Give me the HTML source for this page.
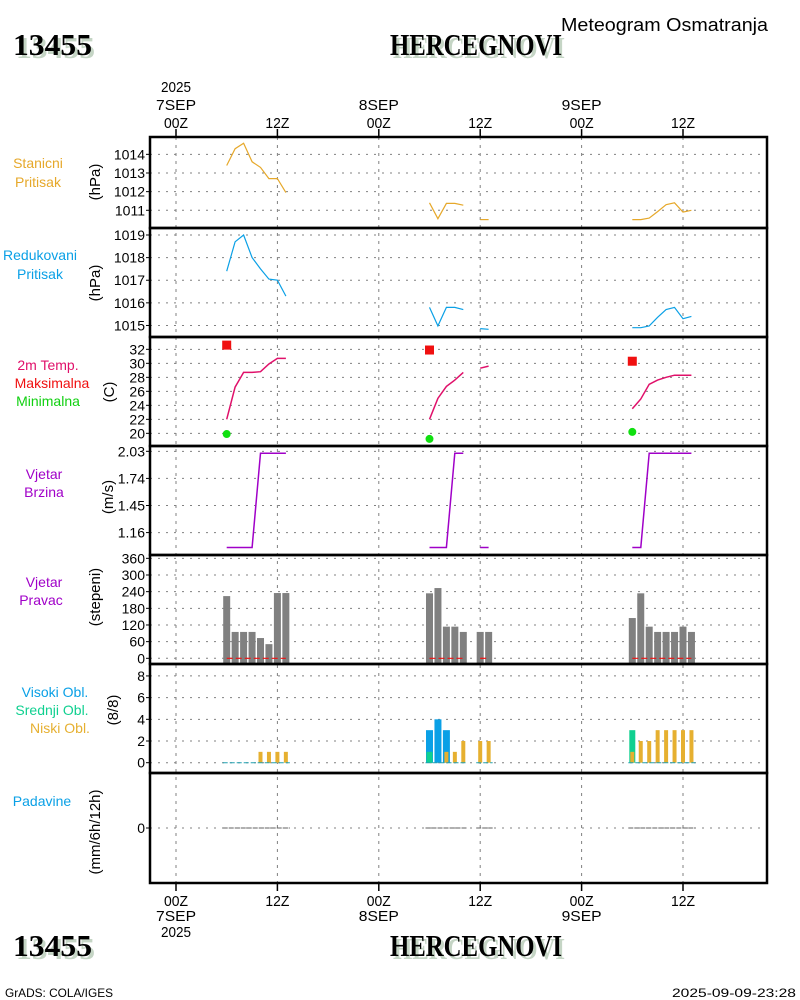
<!DOCTYPE html>
<html><head><meta charset="utf-8"><style>
html,body{margin:0;padding:0;background:#fff}
svg{display:block}
text{font-family:"Liberation Sans",sans-serif}
text.serif{font-family:"Liberation Serif",serif}
</style></head><body>
<svg id="c" xmlns="http://www.w3.org/2000/svg" width="800" height="1000" viewBox="0 0 800 1000">
<g id="g"></g>
</svg>
<script>
// ---- data ----
const stnHours=[6,7,8,9,10,11,12,13,30,31,32,33,34,36,37,54,55,56,57,58,59,60,61];
const stnPres=[1013.4,1014.3,1014.6,1013.6,1013.3,1012.7,1012.7,1011.95,1011.4,1010.55,1011.37,1011.37,1011.27,1010.5,1010.5,1010.5,1010.5,1010.58,1010.93,1011.3,1011.4,1010.9,1011.0];
const redPres=[1017.4,1018.7,1019.0,1018.0,1017.5,1017.05,1017.0,1016.3,1015.8,1014.98,1015.8,1015.8,1015.7,1014.86,1014.83,1014.9,1014.9,1014.98,1015.36,1015.7,1015.8,1015.3,1015.4];
const temp2m=[22.0,26.6,28.7,28.7,28.8,29.9,30.7,30.7,22.0,25.0,26.7,27.6,28.7,29.3,29.6,23.5,24.9,27.0,27.6,28.0,28.3,28.3,28.3];
const windSpd=[1.0,1.0,1.0,1.0,2.01,2.01,2.01,2.01,1.0,1.0,1.0,2.01,2.01,1.0,1.0,1.0,1.0,2.01,2.01,2.01,2.01,2.01,2.01];
const windDir=[224,95,95,95,73,51,235,235,234,253,114,114,95,95,95,145,234,114,95,95,95,114,95];
const cloudHigh=[0,0,0,0,0,0,0,0,3,4,3,0,0,0,0,0,0,0,0,0,0,0,0];
const cloudMid=[0,0,0,0,0,0,0,0,1,0,0,0,0,0,0,3,0,0,0,0,0,0,0];
const cloudLow=[0,0,0,0,1,1,1,1,0,0,1,1,2,2,2,1,2,2,3,3,3,3,3];
const maxHours=[6,30,54]; const tMax=[32.6,31.9,30.3];
const tMin=[19.9,19.2,20.2];
const presTicks1=[1011,1012,1013,1014];
const presTicks2=[1015,1016,1017,1018,1019];
const tempTicks=[20,22,24,26,28,30,32];
const spdTicks=[1.16,1.45,1.74,2.03];
const dirTicks=[0,60,120,180,240,300,360];
const cldTicks=[0,2,4,6,8];
const timeHours=[0,12,24,36,48,60];
const timeLabels=["00Z","12Z","00Z","12Z","00Z","12Z"];
const dayLabels=["7SEP","","8SEP","","9SEP",""];

const NS="http://www.w3.org/2000/svg";
const G=document.getElementById('g');
function el(tag,attrs,parent){const e=document.createElementNS(NS,tag);for(const k in attrs)e.setAttribute(k,attrs[k]);(parent||G).appendChild(e);return e;}
function txt(s,x,y,o){const e=el('text',{x:x,y:y,'font-size':o.fs||13,fill:o.fill||'#000','text-anchor':o.anchor||'start'});if(o.tl){e.setAttribute('textLength',o.tl);e.setAttribute('lengthAdjust','spacingAndGlyphs');}if(o.fw)e.setAttribute('font-weight',o.fw);if(o.serif)e.setAttribute('class','serif');if(o.rot)e.setAttribute('transform','rotate(-90 '+x+' '+y+')');e.textContent=s;return e;}
const X0=150,X1=767;
function xs(h){return 176+h*(507/60);}
const panels=[
 {top:137,bot:228,vmax:1014.93,vmin:1010.05},
 {top:228,bot:337,vmax:1019.31,vmin:1014.49},
 {top:337,bot:446,vmax:33.76,vmin:18.19},
 {top:446,bot:555,vmax:2.087,vmin:0.92},
 {top:555,bot:664,vmax:372,vmin:-20.5},
 {top:664,bot:773,vmax:9.1,vmin:-0.95},
 {top:773,bot:883,vmax:1,vmin:-1}];
function ys(p,v){const P=panels[p];return P.top+(P.vmax-v)/(P.vmax-P.vmin)*(P.bot-P.top);}
const tickSets=[presTicks1,presTicks2,tempTicks,spdTicks,dirTicks,cldTicks,[0]];
tickSets.forEach((ts,p)=>{ts.forEach(v=>{const y=ys(p,v);
 const l=el('line',{x1:X0,x2:X1,y1:y,y2:y,stroke:'#808080','stroke-dasharray':'2 6'});
 
 el('line',{x1:X0-4,x2:X0,y1:y,y2:y,stroke:'#000'});
 const t=txt(String(v),145,y+5,{anchor:'end',fs:14});
 
});});
timeHours.forEach((h,i)=>{const x=xs(h);
 const l=el('line',{x1:x,x2:x,y1:137,y2:883,stroke:'#808080','stroke-dasharray':'3 5'});
 
 el('line',{x1:x,x2:x,y1:129,y2:137,stroke:'#000','stroke-width':1.5});
 el('line',{x1:x,x2:x,y1:883,y2:891,stroke:'#000','stroke-width':1.5});
 let t=txt(timeLabels[i],x,128,{anchor:'middle',fs:15,tl:24});
 t=txt(timeLabels[i],x,906,{anchor:'middle',fs:15,tl:24});
 if(dayLabels[i]){t=txt(dayLabels[i],x,110,{anchor:'middle',fs:15,tl:40});
  t=txt(dayLabels[i],x,921,{anchor:'middle',fs:15,tl:40});}
});
let t=txt("2025",xs(0),92,{anchor:'middle',fs:15,tl:30});
t=txt("2025",xs(0),937,{anchor:'middle',fs:15,tl:30});

function segs(vals,p){const out=[];let cur=[];for(let i=0;i<stnHours.length;i++){if(i>0&&stnHours[i]-stnHours[i-1]>1){out.push(cur);cur=[];}cur.push([xs(stnHours[i]),ys(p,vals[i])]);}out.push(cur);return out;}
function drawLine(vals,p,color,name,step){segs(vals,p).forEach(s=>{let d='';s.forEach((pt,i)=>{d+=(i?'L':'M')+pt[0].toFixed(1)+' '+pt[1].toFixed(1);});
 if(s.length==1)d+='L'+(s[0][0]+1)+' '+s[0][1];
 const e=el('path',{d:d,fill:'none',stroke:color,'stroke-width':step||1.2});});}
drawLine(stnPres,0,'#e6a82a','station-pressure-line');
drawLine(redPres,1,'#0aa0e6','reduced-pressure-line');
drawLine(temp2m,2,'#e0106a','temperature-line',1.5);
drawLine(windSpd,3,'#a000c8','wind-speed-line',1.5);
maxHours.forEach((h,i)=>{const r=el('rect',{x:xs(h)-4.5,y:ys(2,tMax[i])-4.5,width:9,height:9,fill:'#f01010'});
 const c=el('circle',{cx:xs(h),cy:ys(2,tMin[i]),r:4,fill:'#10e010'});});
stnHours.forEach((h,i)=>{const x=xs(h);const y=ys(4,windDir[i]);
 const r=el('rect',{x:x-3.5,y:y,width:7,height:664-y,fill:'#808080'});});
segs(windDir.map(()=>0),4).forEach(s=>{const l=el('line',{x1:s[0][0],x2:s[s.length-1][0],y1:s[0][1],y2:s[0][1],stroke:'#f01010','stroke-width':1.2,'stroke-dasharray':'6 3'});});
const y0c=ys(5,0);
stnHours.forEach((h,i)=>{const x=xs(h);
 if(cloudHigh[i]>0){const r=el('rect',{x:x-3.5,y:ys(5,cloudHigh[i]),width:7,height:y0c-ys(5,cloudHigh[i]),fill:'#0aa0e6'});}
 if(cloudMid[i]>0){const r=el('rect',{x:x-3,y:ys(5,cloudMid[i]),width:6,height:y0c-ys(5,cloudMid[i]),fill:'#10d090'});}
 if(cloudLow[i]>0){const r=el('rect',{x:x-2,y:ys(5,cloudLow[i]),width:4,height:y0c-ys(5,cloudLow[i]),fill:'#e6b030'});}
});
segs(cloudLow.map(()=>0),5).forEach(s=>{const l=el('line',{x1:s[0][0]-4,x2:s[s.length-1][0]+4,y1:y0c,y2:y0c,stroke:'#20a0b0','stroke-width':1,'stroke-dasharray':'5 2'});});
segs(cloudLow.map(()=>0),6).forEach(s=>{const l=el('line',{x1:s[0][0]-4,x2:s[s.length-1][0]+4,y1:ys(6,0),y2:ys(6,0),stroke:'#606060','stroke-width':1,'stroke-dasharray':'5 1'});});
panels.forEach(P=>{const r=el('rect',{x:X0,y:P.top,width:X1-X0,height:P.bot-P.top,fill:'none',stroke:'#000','stroke-width':2.5});});
const labs=[["Stanicni",38,168,'#e6a82a'],["Pritisak",38,187,'#e6a82a'],["Redukovani",40,260,'#0aa0e6'],["Pritisak",40,279,'#0aa0e6'],
 ["2m Temp.",48,370,'#e0106a'],["Maksimalna",52,388,'#f01010'],["Minimalna",48,406,'#10d010'],["Vjetar",44,479,'#a000c8'],["Brzina",44,497,'#a000c8'],
 ["Vjetar",44,587,'#a000c8'],["Pravac",41,605,'#a000c8'],["Visoki Obl.",55,697,'#0aa0e6'],["Srednji Obl.",52,715,'#10d090'],["Niski Obl.",60,733,'#e6b030'],["Padavine",42,806,'#0aa0e6']];
labs.forEach(l=>{const e=txt(l[0],l[1],l[2],{anchor:'middle',fs:14,fill:l[3]});});
const units=[["(hPa)",100,182],["(hPa)",100,283],["(C)",114,392],["(m/s)",113,497],["(stepeni)",100,597],["(8/8)",118,710],["(mm/6h/12h)",100,832]];
units.forEach(u=>{const e=txt(u[0],u[1],u[2],{anchor:'middle',fs:15,rot:true});});
function title(s,x,y,tl,name){const sh=txt(s,x+3,y+3,{fs:31,fw:'bold',serif:true,fill:'#c5d5c5',tl:tl});
 const e=txt(s,x,y,{fs:31,fw:'bold',serif:true,tl:tl});}
title("13455",13,55,79,'station-id-top');title("HERCEGNOVI",390,55,172,'station-name-top');
title("13455",13,956,79,'station-id-bottom');title("HERCEGNOVI",390,956,172,'station-name-bottom');
t=txt("Meteogram Osmatranja",561,31,{fs:18,tl:207});
t=txt("GrADS: COLA/IGES",5,997,{fs:12,tl:108});
t=txt("2025-09-09-23:28",672,997,{fs:12,tl:124});
</script>
</body></html>
